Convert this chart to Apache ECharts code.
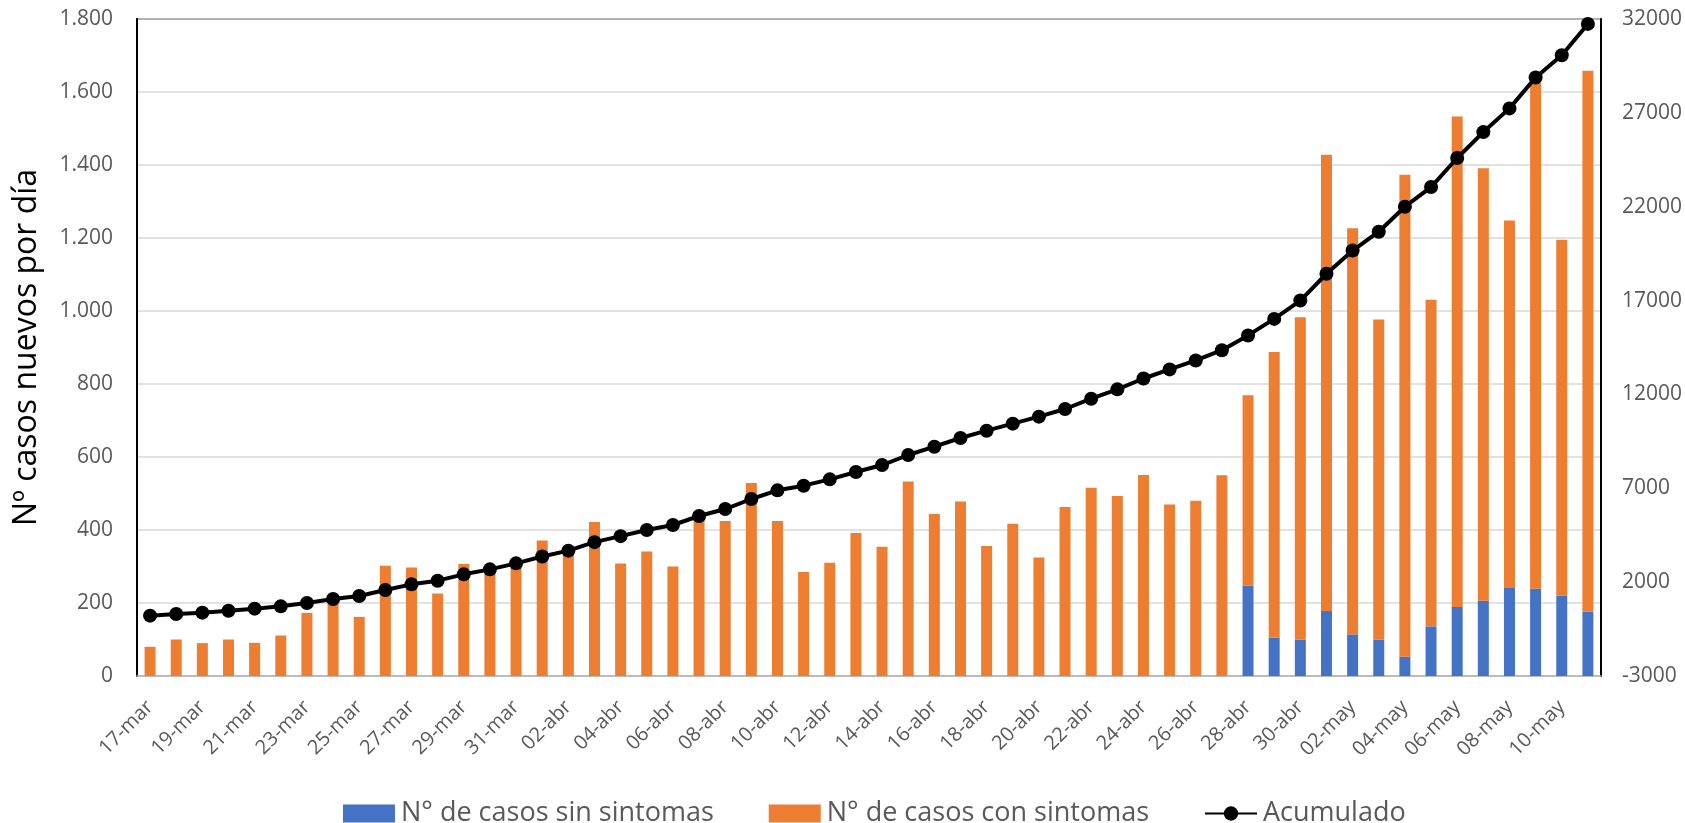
<!DOCTYPE html>
<html lang="es">
<head>
<meta charset="utf-8">
<title>Casos nuevos por día</title>
<script src="https://cdn.jsdelivr.net/npm/echarts@6/dist/echarts.min.js"></script>
<style>
  html, body { margin: 0; padding: 0; background: #ffffff; }
  #chart { width: 1685px; height: 823px; }
</style>
</head>
<body>
<div id="chart"></div>
<script>
// Días (17-mar a 11-may)
const fechas = [
  '17-mar','18-mar','19-mar','20-mar','21-mar','22-mar','23-mar','24-mar','25-mar','26-mar',
  '27-mar','28-mar','29-mar','30-mar','31-mar',
  '01-abr','02-abr','03-abr','04-abr','05-abr','06-abr','07-abr','08-abr','09-abr','10-abr',
  '11-abr','12-abr','13-abr','14-abr','15-abr','16-abr','17-abr','18-abr','19-abr','20-abr',
  '21-abr','22-abr','23-abr','24-abr','25-abr','26-abr','27-abr','28-abr','29-abr','30-abr',
  '01-may','02-may','03-may','04-may','05-may','06-may','07-may','08-may','09-may','10-may','11-may'
];

// Casos nuevos sin síntomas (apilados abajo)
const sinSintomas = [
  0,0,0,0,0,0,0,0,0,0,
  0,0,0,0,0,
  0,0,0,0,0,0,0,0,0,0,
  0,0,0,0,0,0,0,0,0,0,
  0,0,0,0,0,0,0,247,105,100,
  178,114,100,53,136,189,206,241,239,220,176
];

// Casos nuevos con síntomas (apilados arriba)
const conSintomas = [
  80,100,90,100,91,111,173,198,162,302,
  297,226,307,290,295,
  371,340,422,308,341,300,430,425,529,425,
  285,310,392,354,533,444,478,356,417,325,
  463,516,493,551,470,480,550,522,783,883,
  1250,1113,877,1320,895,1344,1185,1007,1386,975,1482
];

// Casos acumulados (eje derecho)
const acumulado = [
  214,303,374,480,587,711,889,1102,1262,1581,
  1883,2078,2416,2682,3002,
  3366,3677,4130,4449,4777,5044,5523,5896,6429,6891,
  7139,7477,7867,8240,8773,9216,9678,10069,10442,10815,
  11223,11773,12271,12848,13334,13810,14357,15143,16024,17000,
  18429,19667,20667,22000,23048,24596,25976,27238,28881,30072,31738
];

// Marcas del eje derecho
const ticksDerecha = [-3000, 2000, 7000, 12000, 17000, 22000, 27000, 32000];

const FONT = 'Open Sans';
const GRIS = '#595959';

// Separador de miles con punto (1.800)
function miles(v) {
  if (v >= 1000) {
    return Math.floor(v / 1000) + '.' + String(v % 1000).padStart(3, '0');
  }
  return String(v);
}

const chart = echarts.init(document.getElementById('chart'), null, { renderer: 'canvas' });

chart.setOption({
  animation: false,
  backgroundColor: '#ffffff',
  textStyle: { fontFamily: FONT },
  grid: {
    left: 137, right: 83, top: 19, bottom: 147,
    show: true, borderColor: '#000000', borderWidth: 1.5, backgroundColor: 'transparent'
  },
  legend: {
    left: 338, top: 795,
    itemWidth: 52, itemHeight: 18, itemGap: 55,
    textStyle: { fontFamily: FONT, fontSize: 27, color: GRIS, padding: [0, 0, 0, 1] },
    data: [
      { name: 'N° de casos sin sintomas', icon: 'rect' },
      { name: 'N° de casos con sintomas', icon: 'rect' },
      { name: 'Acumulado' }
    ]
  },
  xAxis: {
    type: 'category',
    data: fechas,
    boundaryGap: true,
    axisLine: { lineStyle: { color: '#bfbfbf', width: 1.5 } },
    axisTick: { interval: 1, length: 6, lineStyle: { color: '#bfbfbf', width: 1.5 } },
    axisLabel: {
      interval: 1, rotate: 45, margin: 28,
      fontFamily: FONT, fontSize: 20, color: GRIS
    },
    splitLine: { show: false }
  },
  yAxis: [
    {
      type: 'value',
      min: 0, max: 1800, interval: 200,
      name: 'Nº casos nuevos por día',
      nameLocation: 'middle', nameRotate: 90, nameGap: 94,
      nameTextStyle: { fontFamily: FONT, fontSize: 32, color: '#000000' },
      axisLine: { show: true, lineStyle: { color: '#000000', width: 2 } },
      axisTick: { show: false },
      axisLabel: { margin: 24, fontFamily: FONT, fontSize: 21, color: GRIS, formatter: miles },
      splitLine: { lineStyle: { color: '#d9d9d9', width: 1.5 } }
    },
    {
      type: 'value',
      min: -3000, max: 32000,
      position: 'right',
      axisLine: { show: true, lineStyle: { color: '#000000', width: 2 } },
      axisTick: { show: false },
      axisLabel: {
        customValues: ticksDerecha,
        formatter: v => String(v),
        margin: 21, fontFamily: FONT, fontSize: 21, color: GRIS
      },
      splitLine: { show: false }
    }
  ],
  series: [
    {
      name: 'N° de casos sin sintomas',
      type: 'bar', stack: 'casos', yAxisIndex: 0,
      barWidth: 11,
      itemStyle: { color: '#4472c4' },
      data: sinSintomas
    },
    {
      name: 'N° de casos con sintomas',
      type: 'bar', stack: 'casos', yAxisIndex: 0,
      barWidth: 11,
      itemStyle: { color: '#ed7d31' },
      data: conSintomas
    },
    {
      name: 'Acumulado',
      type: 'line', yAxisIndex: 1,
      symbol: 'circle', symbolSize: 14,
      lineStyle: { color: '#000000', width: 4 },
      itemStyle: { color: '#000000' },
      z: 5,
      data: acumulado
    }
  ]
});
</script>
</body>
</html>
